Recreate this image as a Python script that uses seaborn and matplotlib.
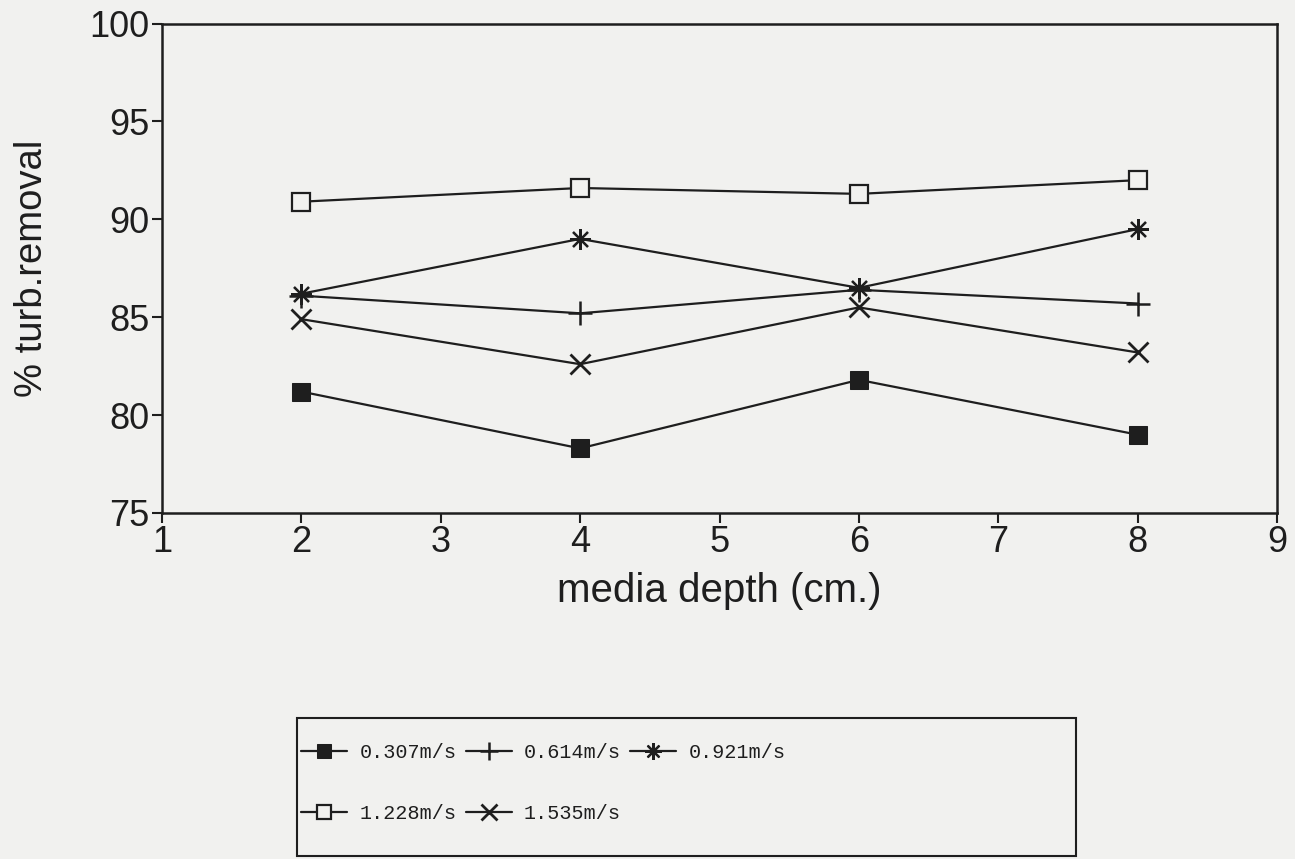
import matplotlib
matplotlib.use("Agg")
import matplotlib.pyplot as plt
from matplotlib.patches import Rectangle
import numpy as np
import pandas as pd
import seaborn as sns

# media depth (cm.)
depth = [2, 4, 6, 8]

# % turbidity removal for each filtration velocity
v0307 = [81.2, 78.3, 81.8, 79.0]
v0614 = [86.1, 85.2, 86.4, 85.7]
v0921 = [86.2, 89.0, 86.5, 89.5]
v1228 = [90.9, 91.6, 91.3, 92.0]
v1535 = [84.9, 82.6, 85.5, 83.2]

labels = ["0.307m/s", "0.614m/s", "0.921m/s", "1.228m/s", "1.535m/s"]
series = [v0307, v0614, v0921, v1228, v1535]

x_ticks = [1, 2, 3, 4, 5, 6, 7, 8, 9]
y_ticks = [75, 80, 85, 90, 95, 100]

df = pd.DataFrame({
    "depth": np.tile(depth, len(labels)),
    "removal": np.concatenate(series),
    "velocity": np.repeat(labels, len(depth)),
})

sns.set_theme(style="ticks")
paper = "#f1f1ef"
ink = "#1e1e1e"
plt.rcParams["font.family"] = ["Liberation Sans", "DejaVu Sans"]

fig = plt.figure(figsize=(12.95, 8.59), dpi=100, facecolor=paper)
ax = fig.add_axes([0.1251, 0.4028, 0.861, 0.5698])
ax.set_facecolor(paper)

marker_style = {
    "0.307m/s": dict(marker="s", markersize=13, markerfacecolor=ink, markeredgecolor=ink),
    "0.614m/s": dict(marker="+", markersize=17, markeredgewidth=1.8, markeredgecolor=ink),
    "0.921m/s": dict(marker=(8, 2, 0), markersize=15, markeredgewidth=1.6, markeredgecolor=ink),
    "1.228m/s": dict(marker="s", markersize=13, markerfacecolor=paper, markeredgecolor=ink,
                     markeredgewidth=1.6),
    "1.535m/s": dict(marker="x", markersize=14, markeredgewidth=2.0, markeredgecolor=ink),
}

for lab in labels:
    sub = df[df["velocity"] == lab]
    sns.lineplot(data=sub, x="depth", y="removal", ax=ax, color=ink, linewidth=1.6,
                 label=lab, legend=False, **marker_style[lab])

ax.set_xlim(1, 9)
ax.set_ylim(75, 100)
ax.set_xticks(x_ticks)
ax.set_yticks(y_ticks)
ax.tick_params(axis="both", direction="out", length=7, width=1.5, colors=ink,
               labelsize=26, pad=2)
for side in ["left", "right", "top", "bottom"]:
    ax.spines[side].set_visible(True)
    ax.spines[side].set_linewidth(1.8)
    ax.spines[side].set_color(ink)

ax.set_xlabel("media depth (cm.)", fontsize=29, color=ink, labelpad=8)
ax.set_ylabel("% turb.removal", fontsize=27.5, color=ink, labelpad=28)

# Legend: three entries on the first row, two on the second
handles, hlabels = ax.get_legend_handles_labels()
order = [0, 3, 1, 4, 2]
leg = fig.legend([handles[i] for i in order], [hlabels[i] for i in order],
                 ncol=3, loc="upper left", bbox_to_anchor=(0.2325, 0.135),
                 frameon=False, borderpad=0, borderaxespad=0,
                 handlelength=2.3, handletextpad=0.6, columnspacing=0.45,
                 labelspacing=2.1, numpoints=1, markerscale=0.8,
                 prop={"family": "Liberation Mono", "size": 14.5})
for t in leg.get_texts():
    t.set_color(ink)

fig.patches.append(Rectangle((0.2293, 0.0035), 0.6015, 0.1607, transform=fig.transFigure,
                             fill=False, edgecolor=ink, linewidth=1.5))

fig.savefig("out.png", dpi=100, facecolor=paper)
